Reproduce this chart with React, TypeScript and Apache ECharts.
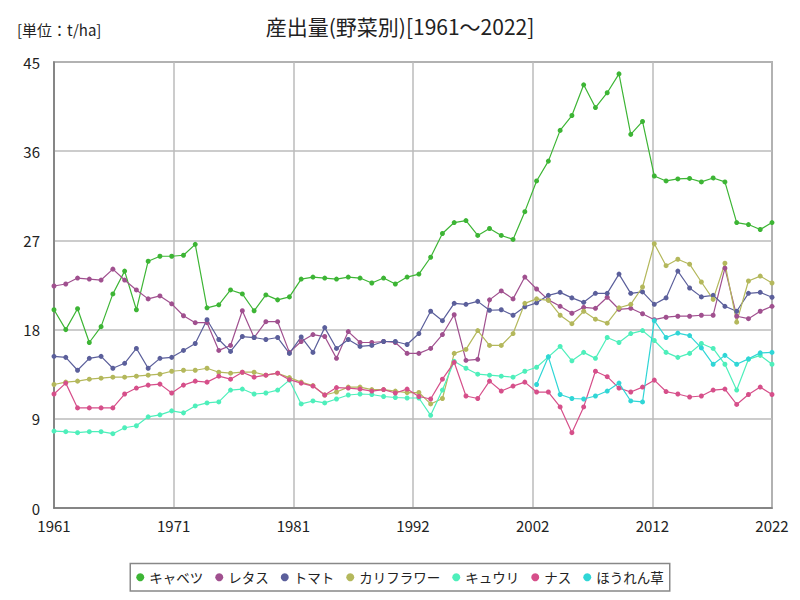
import React, { useEffect, useRef } from "react";
import * as echarts from "echarts";

const years = [
  1961, 1962, 1963, 1964, 1965, 1966, 1967, 1968, 1969, 1970,
  1971, 1972, 1973, 1974, 1975, 1976, 1977, 1978, 1979, 1980,
  1981, 1982, 1983, 1984, 1985, 1986, 1987, 1988, 1989, 1990,
  1991, 1992, 1993, 1994, 1995, 1996, 1997, 1998, 1999, 2000,
  2001, 2002, 2003, 2004, 2005, 2006, 2007, 2008, 2009, 2010,
  2011, 2012, 2013, 2014, 2015, 2016, 2017, 2018, 2019, 2020,
  2021, 2022,
];

const cabbage = [
  20.0, 18.0, 20.1, 16.7, 18.3, 21.6, 23.9, 20.0, 24.9, 25.4,
  25.4, 25.5, 26.6, 20.2, 20.5, 22.0, 21.6, 19.9, 21.5, 21.0,
  21.3, 23.1, 23.3, 23.2, 23.1, 23.3, 23.2, 22.7, 23.2, 22.6,
  23.3, 23.6, 25.3, 27.7, 28.8, 29.0, 27.5, 28.2, 27.5, 27.1,
  29.9, 33.0, 35.0, 38.1, 39.6, 42.7, 40.4, 41.9, 43.8, 37.7,
  39.0, 33.5, 33.0, 33.2, 33.25, 32.9, 33.3, 32.9, 28.8, 28.6,
  28.1, 28.8,
];

const lettuce = [
  22.4, 22.6, 23.2, 23.1, 23.0, 24.1, 23.0, 22.0, 21.1, 21.4,
  20.6, 19.4, 18.7, 18.7, 15.9, 16.4, 19.9, 17.2, 18.8, 18.8,
  15.7, 16.8, 17.5, 17.3, 15.1, 17.8, 16.7, 16.7, 16.8, 16.7,
  15.6, 15.6, 16.1, 17.5, 19.5, 14.9, 15.0, 21.0, 21.9, 21.1,
  23.3, 22.1, 21.0, 20.35, 19.65, 20.25, 20.15, 21.26, 20.05, 20.15,
  19.6, 19.0, 19.25, 19.35, 19.35, 19.45, 19.45, 24.2, 19.35, 19.1,
  19.85, 20.35,
];

const tomato = [
  15.3, 15.2, 13.9, 15.1, 15.3, 14.1, 14.6, 16.1, 14.1, 15.1,
  15.2, 15.9, 16.6, 19.0, 17.0, 15.8, 17.3, 17.2, 17.0, 17.2,
  15.6, 17.26, 15.7, 18.2, 16.1, 17.0, 16.3, 16.4, 16.8, 16.8,
  16.5, 17.6, 19.85, 18.9, 20.65, 20.55, 20.85, 19.95, 20.0, 19.45,
  20.3, 20.7, 21.46, 21.76, 21.2, 20.75, 21.66, 21.66, 23.6, 21.66,
  21.8, 20.55, 21.2, 23.9, 22.2, 21.3, 21.46, 20.35, 19.85, 21.66,
  21.76, 21.26,
];

const cauliflower = [
  12.46, 12.7, 12.8, 13.0, 13.1, 13.2, 13.2, 13.3, 13.4, 13.5,
  13.8, 13.9, 13.9, 14.1, 13.7, 13.6, 13.7, 13.7, 13.4, 13.6,
  13.16, 12.7, 12.35, 11.4, 11.7, 12.2, 12.2, 11.95, 11.95, 11.8,
  11.65, 11.65, 10.5, 11.05, 15.6, 16.0, 17.9, 16.4, 16.4, 17.6,
  20.65, 21.1, 20.95, 19.45, 18.6, 19.85, 19.05, 18.65, 20.2, 20.55,
  22.3, 26.66, 24.45, 25.1, 24.6, 22.8, 21.05, 24.7, 18.75, 22.9,
  23.4, 22.7,
];

const cucumber = [
  7.76, 7.7, 7.6, 7.7, 7.7, 7.5, 8.1, 8.3, 9.2, 9.4,
  9.8, 9.6, 10.3, 10.6, 10.7, 11.9, 12.0, 11.5, 11.6, 11.9,
  12.9, 10.5, 10.8, 10.6, 11.0, 11.4, 11.5, 11.45, 11.25, 11.15,
  11.1, 11.1, 9.35, 11.9, 14.8, 14.1, 13.5, 13.4, 13.3, 13.2,
  13.8, 14.2, 15.25, 16.3, 14.85, 15.7, 15.1, 17.2, 16.7, 17.6,
  17.9, 16.9, 15.7, 15.2, 15.6, 16.6, 16.1, 14.5, 11.9, 15.0,
  15.4, 14.5,
];

const eggplant = [
  11.5, 12.6, 10.1, 10.1, 10.1, 10.1, 11.5, 12.1, 12.4, 12.5,
  11.6, 12.4, 12.8, 12.7, 13.3, 13.0, 13.7, 13.2, 13.4, 13.6,
  12.95, 12.6, 12.3, 11.4, 12.15, 12.1, 12.0, 11.8, 11.95, 11.6,
  12.0, 11.25, 11.0, 13.0, 14.7, 11.3, 11.05, 12.8, 11.8, 12.3,
  12.7, 11.7, 11.7, 10.2, 7.6, 10.2, 13.8, 13.25, 12.1, 11.7,
  12.2, 12.9, 11.75, 11.5, 11.2, 11.3, 11.9, 12.0, 10.45, 11.45,
  12.2, 11.45,
];

// spinach data starts in 2002
const spinachYears = [
  2002, 2003, 2004, 2005, 2006, 2007, 2008, 2009, 2010, 2011,
  2012, 2013, 2014, 2015, 2016, 2017, 2018, 2019, 2020, 2021, 2022,
];
const spinach = [
  12.46, 15.25, 11.45, 11.05, 11.0, 11.3, 11.8, 12.6, 10.8, 10.7,
  18.9, 17.2, 17.65, 17.4, 16.15, 14.5, 15.4, 14.5, 15.05, 15.65, 15.7,
];

const seriesNames = ["キャベツ", "レタス", "トマト", "カリフラワー", "キュウリ", "ナス", "ほうれん草"];
const seriesColors = ["#3db535", "#a0508f", "#5b5f9b", "#b4b85c", "#4eefbb", "#d64f8a", "#30d6d6"];

const pair = (xs: number[], ys: number[]) => ys.map((v, i) => [xs[i], v]);

export default function App() {
  const ref = useRef<HTMLDivElement>(null);
  useEffect(() => {
    if (!ref.current) return;
    const chart = echarts.init(ref.current, null, { renderer: "svg" });
    const seriesData = [
      pair(years, cabbage),
      pair(years, lettuce),
      pair(years, tomato),
      pair(years, cauliflower),
      pair(years, cucumber),
      pair(years, eggplant),
      pair(spinachYears, spinach),
    ];
    const font = "'Noto Sans CJK JP', sans-serif";
    chart.setOption({
      animation: false,
      color: seriesColors,
      textStyle: { fontFamily: font },
      title: [
        {
          text: "産出量(野菜別)[1961～2022]",
          left: "center",
          top: 10,
          textStyle: { fontSize: 21, fontWeight: "normal", color: "#222", fontFamily: font },
        },
        {
          text: "[単位：t/ha]",
          left: 12,
          top: 17,
          textStyle: { fontSize: 15, fontWeight: "normal", color: "#222", fontFamily: font },
        },
      ],
      legend: {
        bottom: 9,
        left: "center",
        icon: "circle",
        itemWidth: 8,
        itemHeight: 8,
        itemGap: 12,
        borderColor: "#888",
        borderWidth: 1.5,
        borderRadius: 0,
        padding: [7, 6],
        textStyle: { fontSize: 13.5, color: "#222", fontFamily: font },
        data: seriesNames,
      },
      grid: {
        left: 54,
        right: 28,
        top: 62,
        bottom: 92,
        show: true,
        borderColor: "#777",
        borderWidth: 1.5,
      },
      xAxis: {
        type: "value",
        min: 1961,
        max: 2022,
        interval: 10.1667,
        axisLine: { show: true, lineStyle: { color: "#777", width: 1.5 } },
        axisTick: { show: false },
        splitLine: { show: true, lineStyle: { color: "#bbb", width: 1.5 } },
        axisLabel: {
          fontSize: 15,
          color: "#222",
          margin: 10,
          formatter: (v: number) => String(Math.round(v)),
        },
      },
      yAxis: {
        type: "value",
        min: 0,
        max: 45,
        interval: 9,
        axisLine: { show: true, lineStyle: { color: "#777", width: 1.5 } },
        axisTick: { show: false },
        splitLine: { show: true, lineStyle: { color: "#bbb", width: 1.5 } },
        axisLabel: { fontSize: 15, color: "#222", margin: 14 },
      },
      series: seriesNames.map((name, i) => ({
        name,
        type: "line",
        data: seriesData[i],
        symbol: "circle",
        symbolSize: 5,
        lineStyle: { width: 1.2 },
        emphasis: { disabled: true },
      })),
    });
    return () => chart.dispose();
  }, []);
  return (
    <div
      ref={ref}
      style={{ position: "fixed", left: 0, top: 0, width: 800, height: 600, background: "#fff" }}
    />
  );
}
